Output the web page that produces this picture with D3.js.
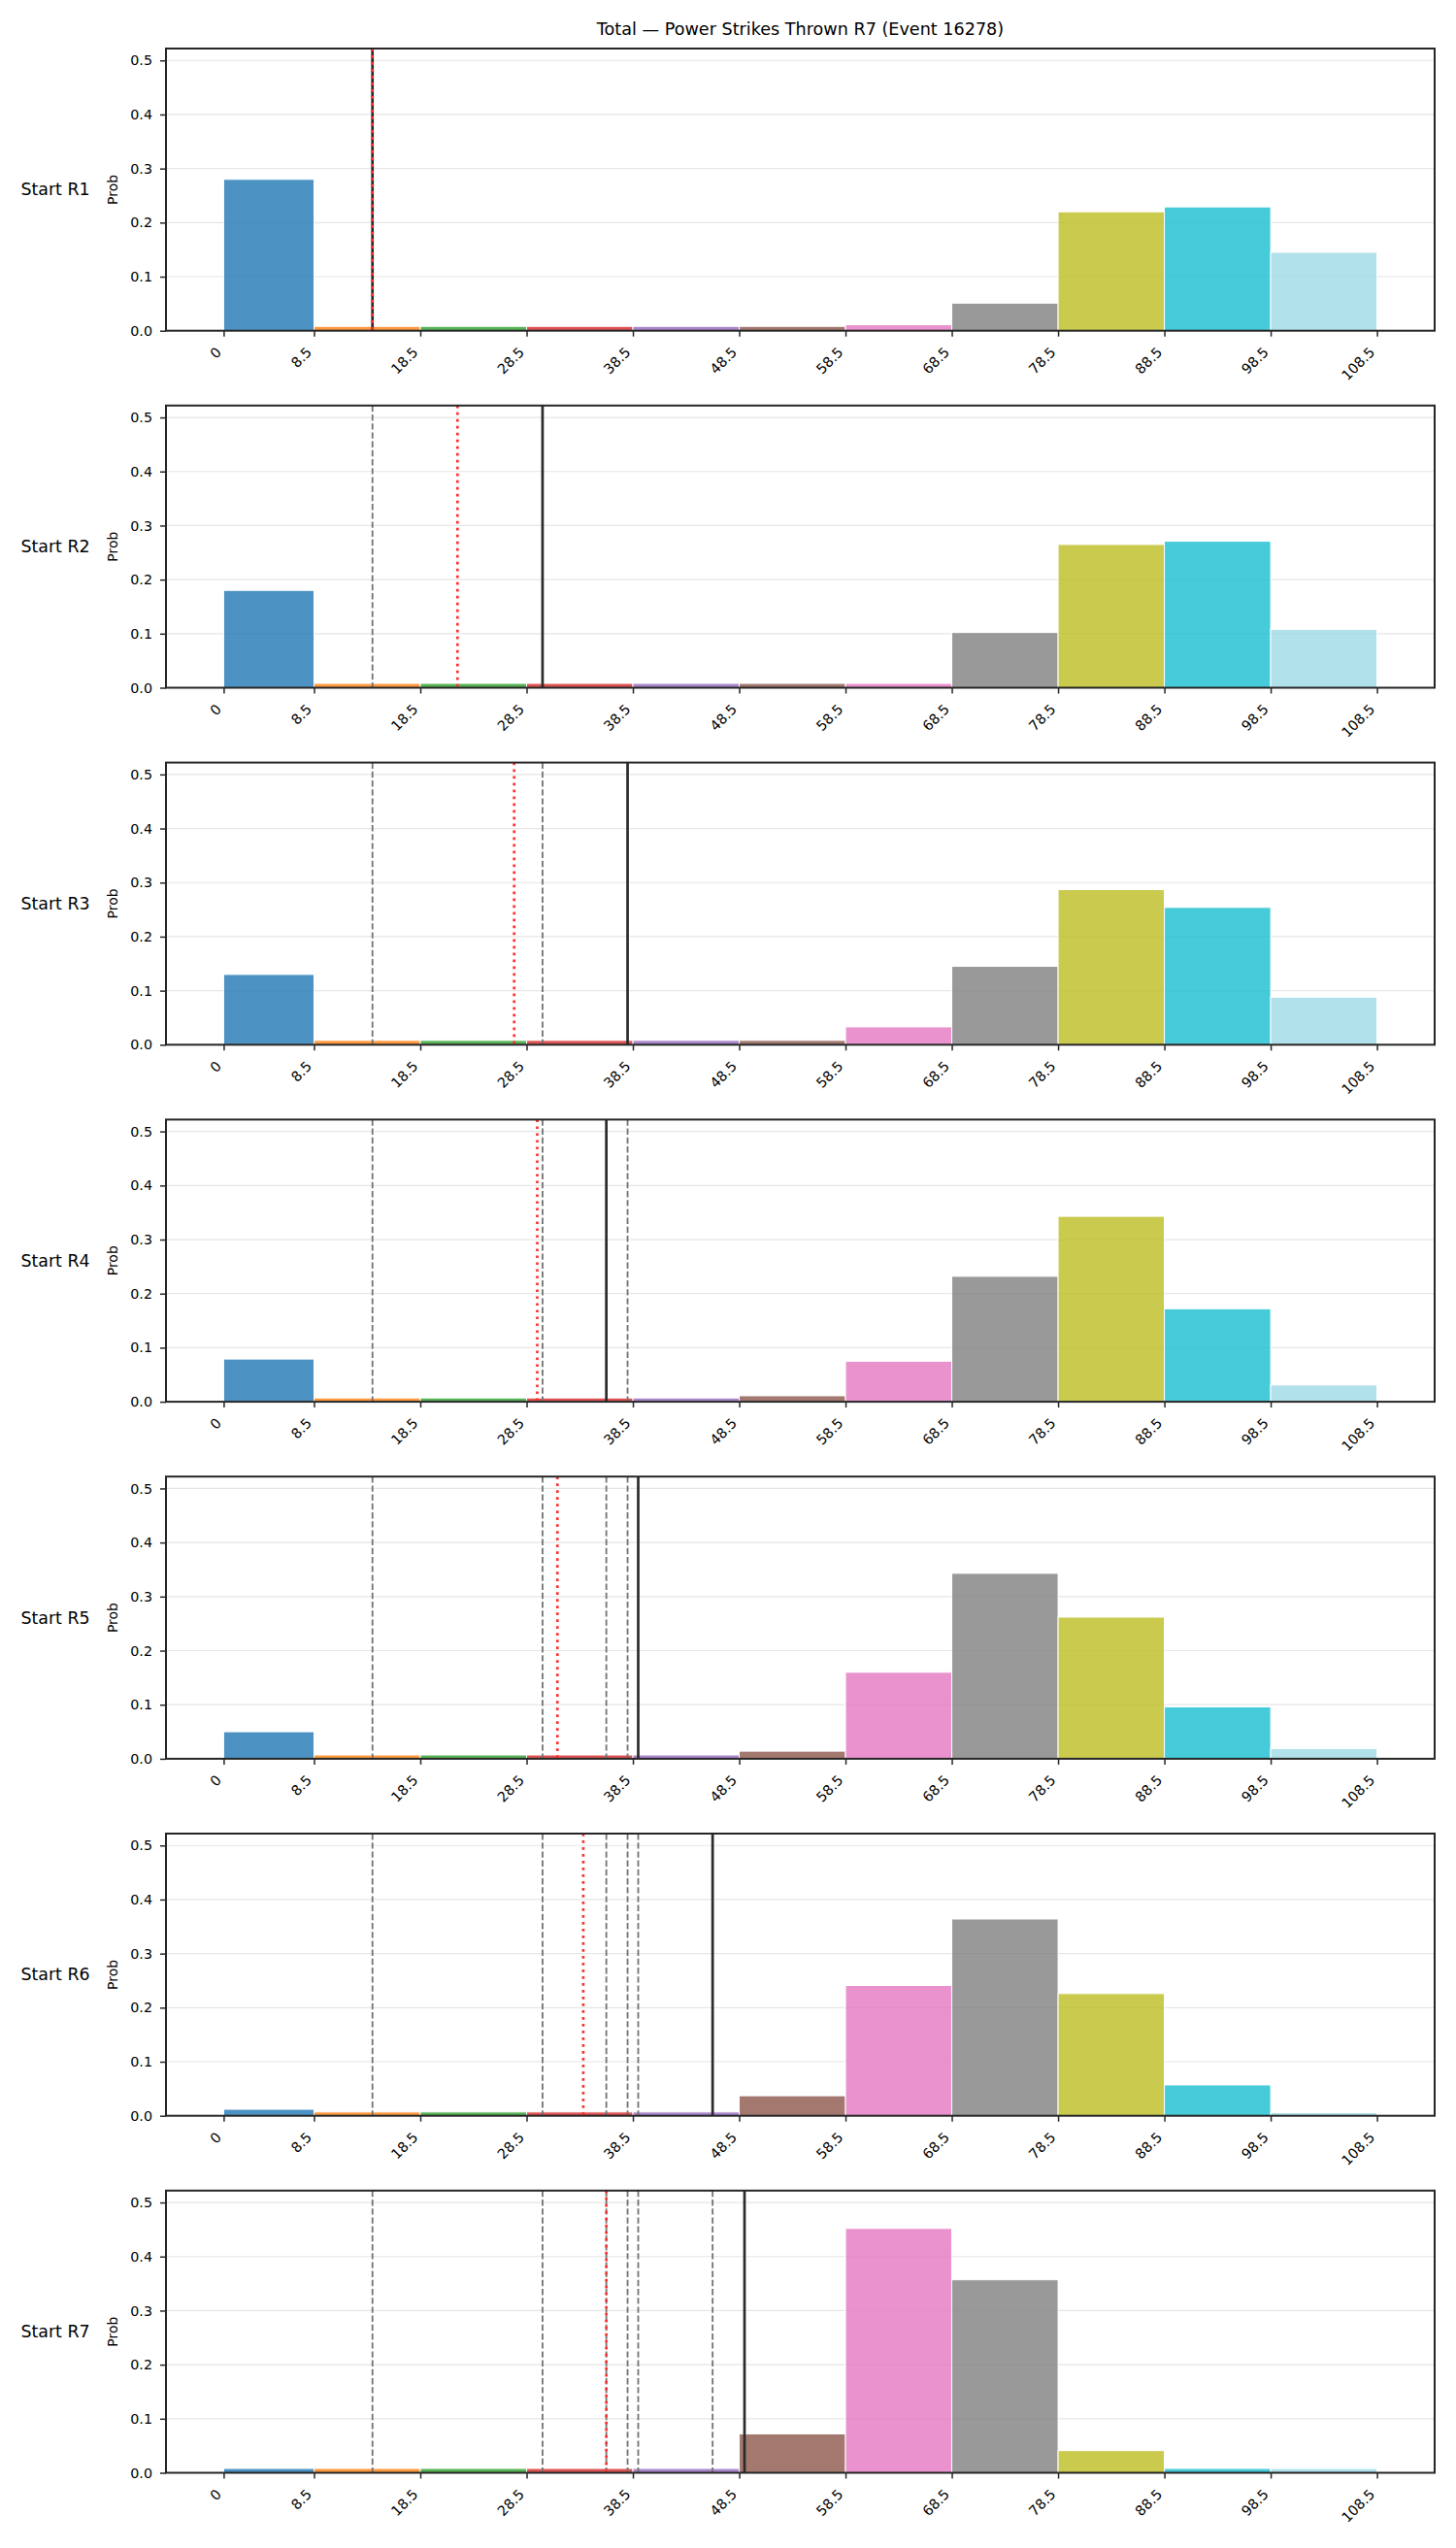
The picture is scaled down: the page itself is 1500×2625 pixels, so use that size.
<!DOCTYPE html>
<html lang="en">
<head>
  <meta charset="UTF-8">
  <title>Total — Power Strikes Thrown R7 (Event 16278)</title>
  <script src="https://cdnjs.cloudflare.com/ajax/libs/d3/7.8.5/d3.min.js"></script>
  <style>
    body { margin: 0; background: #fff; }
    text { font-family: "DejaVu Sans", sans-serif; fill: #000; }
    .tick text { font-size: 14.3px; }
    .tick line { stroke: #262626; stroke-width: 1.5px; }
    .grid line { stroke: #e6e6e6; stroke-width: 1.2px; }
    .spine { fill: none; stroke: #262626; stroke-width: 2px; }
  </style>
</head>
<body>
  <div id="chart"></div>
  <script>
    // bin edges and tick labels on x
    const binEdges = [0, 8.5, 18.5, 28.5, 38.5, 48.5, 58.5, 68.5, 78.5, 88.5, 98.5, 108.5];
    const tickLabels = ["0", "8.5", "18.5", "28.5", "38.5", "48.5", "58.5", "68.5", "78.5", "88.5", "98.5", "108.5"];
    const yTicks = [0, 0.1, 0.2, 0.3, 0.4, 0.5];

    const rowLabels = ["Start R1", "Start R2", "Start R3", "Start R4", "Start R5", "Start R6", "Start R7"];

    // probability per bin, one array per starting round
    const probR1 = [0.280, 0.008, 0.008, 0.008, 0.008, 0.008, 0.011, 0.051, 0.220, 0.229, 0.145];
    const probR2 = [0.180, 0.008, 0.008, 0.008, 0.008, 0.008, 0.008, 0.102, 0.265, 0.271, 0.108];
    const probR3 = [0.130, 0.008, 0.008, 0.008, 0.008, 0.008, 0.033, 0.145, 0.287, 0.254, 0.088];
    const probR4 = [0.079, 0.007, 0.007, 0.007, 0.007, 0.011, 0.075, 0.232, 0.343, 0.172, 0.031];
    const probR5 = [0.050, 0.007, 0.007, 0.007, 0.007, 0.014, 0.160, 0.343, 0.262, 0.096, 0.019];
    const probR6 = [0.012, 0.007, 0.007, 0.007, 0.007, 0.037, 0.241, 0.364, 0.226, 0.057, 0.006];
    const probR7 = [0.008, 0.008, 0.008, 0.008, 0.008, 0.072, 0.452, 0.357, 0.041, 0.008, 0.008];
    const probs = [probR1, probR2, probR3, probR4, probR5, probR6, probR7];

    // running total at each round, and the running mean
    const roundTotals = [14, 30, 38, 36, 39, 46, 49];
    const meanTotals = [14, 22, 27.33, 29.5, 31.4, 33.83, 36];

    const palette = ["#1f77b4", "#ff7f0e", "#2ca02c", "#d62728", "#9467bd", "#8c564b",
                     "#e377c2", "#7f7f7f", "#bcbd22", "#17becf", "#9edae5"];

    const width = 1500, height = 2625;
    const left = 171, right = 1478;
    const top0 = 50, panelH = 290.7, step = 367.8;

    const svg = d3.select("#chart").append("svg")
      .attr("width", width).attr("height", height);

    svg.append("text")
      .attr("x", (left + right) / 2).attr("y", 36)
      .attr("text-anchor", "middle")
      .style("font-size", "17.6px")
      .text("Total — Power Strikes Thrown R7 (Event 16278)");

    const x = d3.scaleLinear().domain([-5.425, 113.925]).range([left, right]);

    probs.forEach((vals, r) => {
      const top = top0 + r * step;
      const y = d3.scaleLinear().domain([0, 0.522]).range([top + panelH, top]);
      const g = svg.append("g");

      // horizontal grid
      g.append("g").attr("class", "grid")
        .selectAll("line").data(yTicks.slice(1)).join("line")
        .attr("x1", left).attr("x2", right)
        .attr("y1", d => y(d)).attr("y2", d => y(d));

      // bars
      g.selectAll("rect.bar").data(vals).join("rect")
        .attr("class", "bar")
        .attr("x", (d, i) => x(binEdges[i]))
        .attr("width", (d, i) => x(binEdges[i + 1]) - x(binEdges[i]))
        .attr("y", d => y(d))
        .attr("height", d => y(0) - y(d))
        .attr("fill", (d, i) => palette[i])
        .attr("fill-opacity", 0.8)
        .attr("stroke", "#fff")
        .attr("stroke-width", 1);

      // earlier rounds' totals
      g.selectAll("line.prev").data(roundTotals.slice(0, r)).join("line")
        .attr("class", "prev")
        .attr("x1", d => x(d)).attr("x2", d => x(d))
        .attr("y1", top).attr("y2", top + panelH)
        .attr("stroke", "#737373").attr("stroke-width", 1.8)
        .attr("stroke-dasharray", "6.4,2.8");

      // current total
      g.append("line")
        .attr("x1", x(roundTotals[r])).attr("x2", x(roundTotals[r]))
        .attr("y1", top).attr("y2", top + panelH)
        .attr("stroke", "#2b2b2b").attr("stroke-width", 2.7);

      // running mean
      g.append("line")
        .attr("x1", x(meanTotals[r])).attr("x2", x(meanTotals[r]))
        .attr("y1", top).attr("y2", top + panelH)
        .attr("stroke", "#ff3030").attr("stroke-width", 2.7)
        .attr("stroke-dasharray", "2.7,4.3");

      // axes
      const xAxis = g.append("g")
        .attr("transform", `translate(0,${top + panelH})`)
        .call(d3.axisBottom(x).tickValues(binEdges)
          .tickFormat((d, i) => tickLabels[i]).tickSize(6));
      xAxis.select(".domain").remove();
      xAxis.selectAll(".tick text")
        .attr("y", 0).attr("dy", 0)
        .attr("text-anchor", "end")
        .attr("transform", "translate(-2,23) rotate(-45)");

      const yAxis = g.append("g")
        .attr("transform", `translate(${left},0)`)
        .call(d3.axisLeft(y).tickValues(yTicks)
          .tickFormat(d3.format(".1f")).tickSize(6).tickPadding(8));
      yAxis.select(".domain").remove();

      g.append("rect").attr("class", "spine")
        .attr("x", left).attr("y", top)
        .attr("width", right - left).attr("height", panelH);

      g.append("text")
        .attr("transform", `translate(121,${top + panelH / 2}) rotate(-90)`)
        .attr("text-anchor", "middle")
        .style("font-size", "14px")
        .text("Prob");

      g.append("text")
        .attr("x", 57).attr("y", top + panelH / 2 + 6)
        .attr("text-anchor", "middle")
        .style("font-size", "17.4px")
        .text(rowLabels[r]);
    });
  </script>
</body>
</html>
